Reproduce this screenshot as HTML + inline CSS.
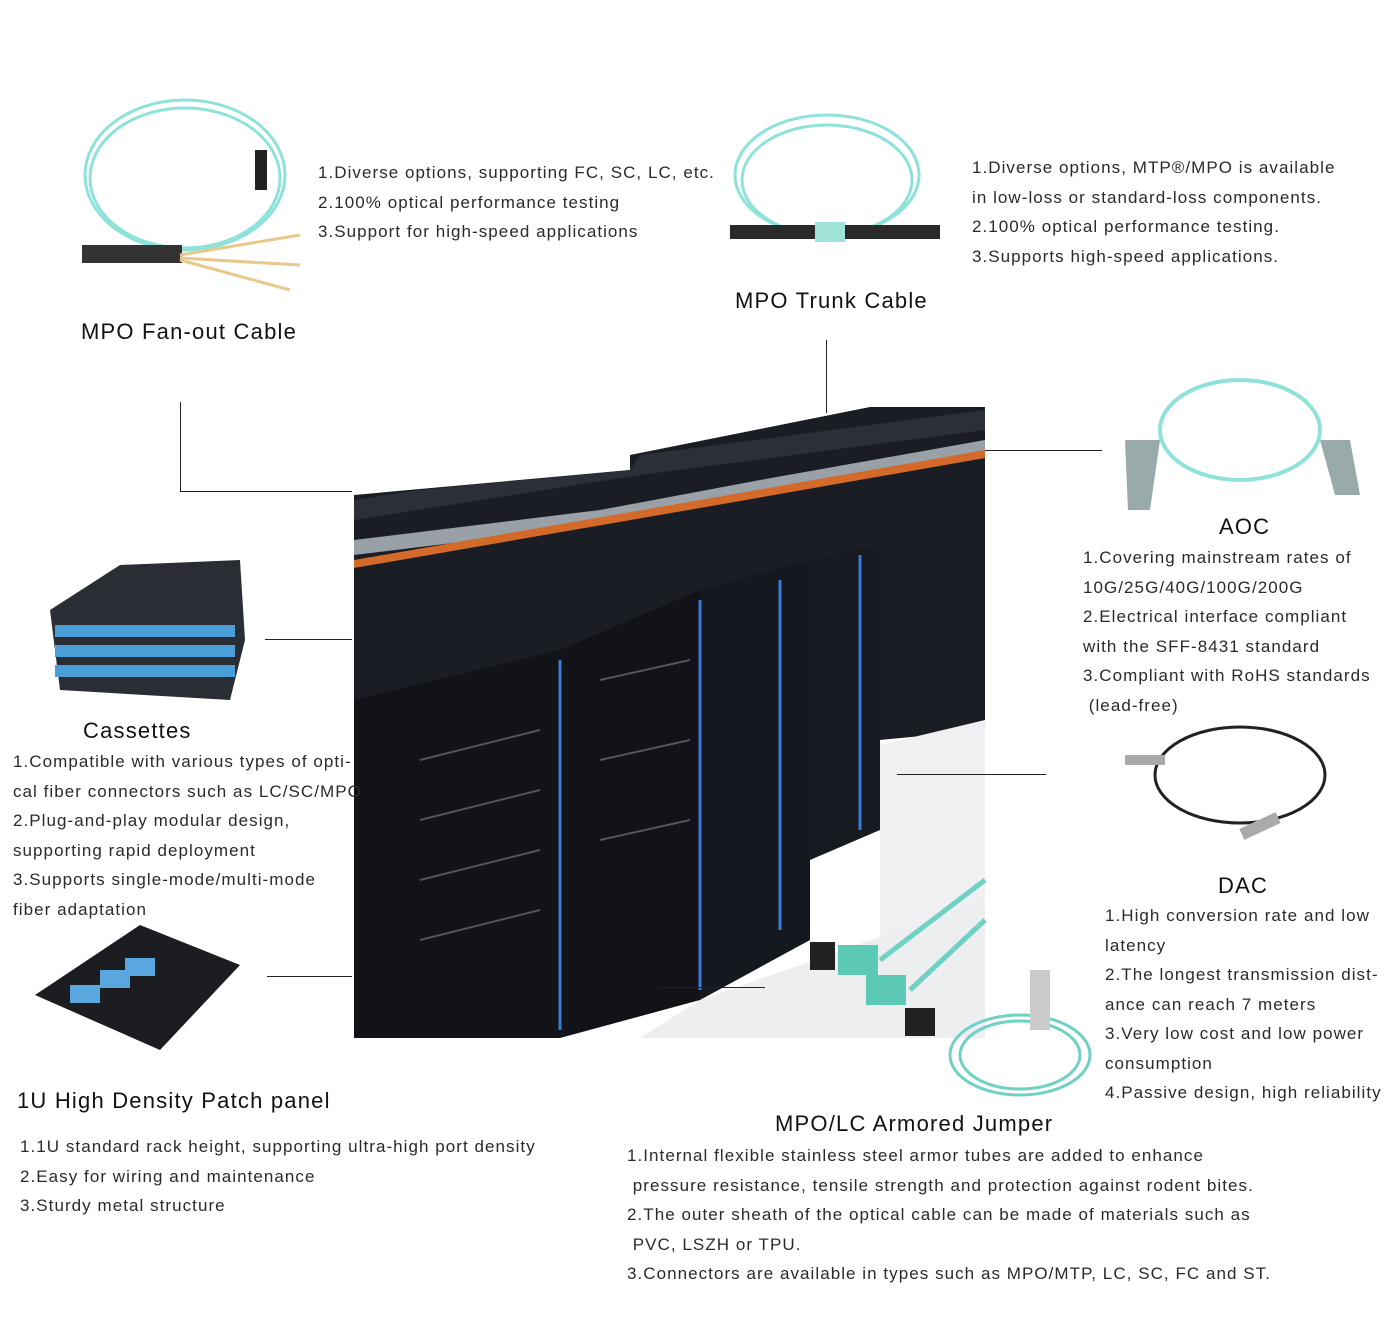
<!DOCTYPE html>
<html><head><meta charset="utf-8"><style>
body{margin:0;width:1400px;height:1331px;background:#fff;position:relative;overflow:hidden;font-family:"Liberation Sans",sans-serif;color:#222}
.t{position:absolute;font-size:17px;line-height:29.5px;letter-spacing:1.05px;white-space:nowrap;color:#2a2a2a}
.h{position:absolute;font-size:22px;letter-spacing:1.2px;white-space:nowrap;color:#111}
.l{position:absolute;background:#222}
svg{position:absolute;left:0;top:0}
</style></head><body>
<svg width="1400" height="1331">
<polygon points="354,495 630,470 630,455 780,425 870,407 985,407 985,730 880,740 870,820 830,840 740,900 700,960 630,1000 560,1038 354,1038" fill="#1a1d24"/>
<polygon points="354,500 420,490 630,470 640,455 985,410 985,430 640,475 354,520" fill="#2b2f38"/>
<polygon points="354,540 600,510 760,480 985,440 985,455 760,495 600,525 354,555" fill="#9aa0a8"/>
<polygon points="354,560 700,500 985,450 985,458 700,508 354,568" fill="#d46a2a"/>
<polygon points="354,700 560,650 700,590 700,1000 560,1038 354,1038" fill="#111318"/>
<polygon points="700,590 810,560 810,940 700,1000" fill="#15181e"/>
<polygon points="810,560 880,545 880,830 810,860" fill="#171a20"/>
<polygon points="880,745 985,720 985,1038 880,1038" fill="#f0f0f2"/>
<polygon points="700,1000 985,900 985,1038 640,1038" fill="#eceef0"/>
<g stroke="#3a7bd5" stroke-width="3"><line x1="560" y1="660" x2="560" y2="1030"/><line x1="700" y1="600" x2="700" y2="990"/><line x1="780" y1="580" x2="780" y2="930"/><line x1="860" y1="555" x2="860" y2="830"/></g>
<g stroke="#555" stroke-width="2"><line x1="420" y1="760" x2="540" y2="730"/><line x1="420" y1="820" x2="540" y2="790"/><line x1="420" y1="880" x2="540" y2="850"/><line x1="420" y1="940" x2="540" y2="910"/><line x1="600" y1="680" x2="690" y2="660"/><line x1="600" y1="760" x2="690" y2="740"/><line x1="600" y1="840" x2="690" y2="820"/></g>
<g fill="none" stroke="#8ee2da" stroke-width="3"><ellipse cx="185" cy="175" rx="100" ry="75"/><ellipse cx="185" cy="178" rx="95" ry="70"/></g>
<rect x="82" y="245" width="100" height="18" fill="#333"/><rect x="255" y="150" width="12" height="40" fill="#222"/>
<g stroke="#e8c98a" stroke-width="3"><line x1="180" y1="255" x2="300" y2="235"/><line x1="180" y1="258" x2="300" y2="265"/><line x1="180" y1="260" x2="290" y2="290"/></g>
<g fill="none" stroke="#8ee2da" stroke-width="3"><ellipse cx="827" cy="175" rx="92" ry="60"/><ellipse cx="827" cy="180" rx="85" ry="55"/></g>
<rect x="730" y="225" width="210" height="14" fill="#2a2a2a"/><rect x="815" y="222" width="30" height="20" fill="#9fe3d9"/>
<g fill="none" stroke="#8ee2da" stroke-width="4"><ellipse cx="1240" cy="430" rx="80" ry="50"/></g>
<polygon points="1125,440 1160,440 1150,510 1128,510" fill="#9aa"/><polygon points="1320,440 1350,440 1360,495 1335,495" fill="#9aa"/>
<g fill="none" stroke="#222" stroke-width="3"><ellipse cx="1240" cy="775" rx="85" ry="48"/></g>
<rect x="1125" y="755" width="40" height="10" fill="#aaa"/><rect x="1240" y="820" width="40" height="12" fill="#aaa" transform="rotate(-25 1260 826)"/>
<polygon points="50,610 120,565 240,560 245,640 230,700 60,690" fill="#2a2d33"/>
<g fill="#4a9fd8"><rect x="55" y="625" width="180" height="12"/><rect x="55" y="645" width="180" height="12"/><rect x="55" y="665" width="180" height="12"/></g>
<polygon points="35,995 140,925 240,965 160,1050" fill="#1c1d20"/>
<g fill="#5aa6de"><rect x="70" y="985" width="30" height="18"/><rect x="100" y="970" width="30" height="18"/><rect x="125" y="958" width="30" height="18"/></g>
<g fill="none" stroke="#6fd1c4" stroke-width="3"><ellipse cx="1020" cy="1055" rx="70" ry="40"/><ellipse cx="1020" cy="1055" rx="60" ry="34"/></g>
<line x1="880" y1="960" x2="985" y2="880" stroke="#6fd1c4" stroke-width="5"/><line x1="910" y1="990" x2="985" y2="920" stroke="#6fd1c4" stroke-width="5"/>
<rect x="838" y="945" width="40" height="30" fill="#5cc9b5"/><rect x="866" y="975" width="40" height="30" fill="#5cc9b5"/>
<rect x="810" y="942" width="25" height="28" fill="#222"/><rect x="905" y="1008" width="30" height="28" fill="#222"/>
<rect x="1030" y="970" width="20" height="60" fill="#ccc"/>
</svg>
<div class="l" style="left:180px;top:402px;width:1px;height:90px"></div>
<div class="l" style="left:180px;top:491px;width:172px;height:1px"></div>
<div class="l" style="left:826px;top:340px;width:1px;height:73px"></div>
<div class="l" style="left:985px;top:450px;width:117px;height:1px"></div>
<div class="l" style="left:265px;top:639px;width:87px;height:1px"></div>
<div class="l" style="left:897px;top:774px;width:149px;height:1px"></div>
<div class="l" style="left:267px;top:976px;width:85px;height:1px"></div>
<div class="l" style="left:657px;top:987px;width:108px;height:1px"></div>

<div class="h" style="left:81px;top:319px">MPO Fan-out Cable</div>
<div class="t" style="left:318px;top:158px">1.Diverse options, supporting FC, SC, LC, etc.<br>2.100% optical performance testing<br>3.Support for high-speed applications</div>
<div class="h" style="left:735px;top:288px">MPO Trunk Cable</div>
<div class="t" style="left:972px;top:153px">1.Diverse options, MTP®/MPO is available<br>in low-loss or standard-loss components.<br>2.100% optical performance testing.<br>3.Supports high-speed applications.</div>
<div class="h" style="left:1219px;top:514px">AOC</div>
<div class="t" style="left:1083px;top:543px">1.Covering mainstream rates of<br>10G/25G/40G/100G/200G<br>2.Electrical interface compliant<br>with the SFF-8431 standard<br>3.Compliant with RoHS standards<br>&nbsp;(lead-free)</div>
<div class="h" style="left:83px;top:718px">Cassettes</div>
<div class="t" style="left:13px;top:747px">1.Compatible with various types of opti-<br>cal fiber connectors such as LC/SC/MPO<br>2.Plug-and-play modular design,<br>supporting rapid deployment<br>3.Supports single-mode/multi-mode<br>fiber adaptation</div>
<div class="h" style="left:1218px;top:873px">DAC</div>
<div class="t" style="left:1105px;top:901px">1.High conversion rate and low<br>latency<br>2.The longest transmission dist-<br>ance can reach 7 meters<br>3.Very low cost and low power<br>consumption<br>4.Passive design, high reliability</div>
<div class="h" style="left:17px;top:1088px">1U High Density Patch panel</div>
<div class="t" style="left:20px;top:1132px">1.1U standard rack height, supporting ultra-high port density<br>2.Easy for wiring and maintenance<br>3.Sturdy metal structure</div>
<div class="h" style="left:775px;top:1111px">MPO/LC Armored Jumper</div>
<div class="t" style="left:627px;top:1141px">1.Internal flexible stainless steel armor tubes are added to enhance<br>&nbsp;pressure resistance, tensile strength and protection against rodent bites.<br>2.The outer sheath of the optical cable can be made of materials such as<br>&nbsp;PVC, LSZH or TPU.<br>3.Connectors are available in types such as MPO/MTP, LC, SC, FC and ST.</div>
</body></html>
